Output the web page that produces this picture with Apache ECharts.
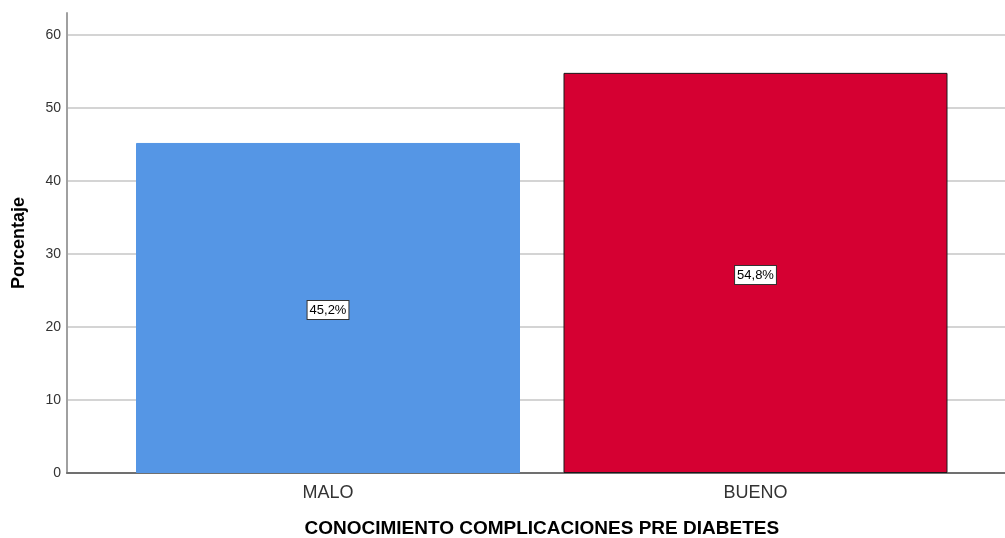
<!DOCTYPE html>
<html>
<head>
<meta charset="utf-8">
<script src="https://cdn.jsdelivr.net/npm/echarts@6/dist/echarts.min.js"></script>
<style>
  html, body { margin: 0; padding: 0; background: #fff; }
  #chart { width: 1005px; height: 538px; }
</style>
</head>
<body>
<div id="chart"></div>
<script>
const categories = ['MALO', 'BUENO'];
const percentages = [45.2, 54.8];
const barColors = ['#5596e5', '#d50032'];
const barBorders = ['#5596e5', '#1a1a1a'];

const FONT = '"Liberation Sans", Arial, sans-serif';
const Y_MAX = 63;

const chart = echarts.init(document.getElementById('chart'));

chart.setOption({
  animation: false,
  grid: [
    // frame grid: value axis, gridlines and base line
    { left: 67, right: 0, top: 13, bottom: 65, outerBoundsMode: 'none', containLabel: false },
    // bar grid: category bands
    { left: 114.25, right: 35.75, top: 13, bottom: 65, outerBoundsMode: 'none', containLabel: false }
  ],
  xAxis: [
    {
      gridIndex: 0, type: 'value', min: 0, max: 1,
      axisLine: { show: true, onZero: false, lineStyle: { color: '#707070', width: 2 } },
      axisTick: { show: false }, axisLabel: { show: false }, splitLine: { show: false }
    },
    {
      gridIndex: 1, type: 'category', data: categories,
      axisLine: { show: false }, axisTick: { show: false },
      axisLabel: { color: '#333', fontSize: 18, fontFamily: FONT, margin: 11 },
      name: 'CONOCIMIENTO COMPLICACIONES PRE DIABETES',
      nameLocation: 'middle', nameGap: 46,
      nameTextStyle: { color: '#000', fontSize: 19, fontWeight: 'bold', fontFamily: FONT }
    }
  ],
  yAxis: [
    {
      gridIndex: 0, type: 'value', min: 0, max: Y_MAX, interval: 10,
      axisLine: { show: true, lineStyle: { color: '#a0a0a0', width: 2 } },
      axisTick: { show: false },
      axisLabel: { color: '#333', fontSize: 14, fontFamily: FONT, margin: 6, showMaxLabel: false },
      splitLine: { show: true, showMaxLine: false, showMinLine: false, lineStyle: { color: '#d4d4d4', width: 2 } },
      name: 'Porcentaje', nameLocation: 'middle', nameGap: 39,
      nameTextStyle: { color: '#000', fontSize: 18, fontWeight: 'bold', fontFamily: FONT }
    },
    {
      gridIndex: 1, type: 'value', min: 0, max: Y_MAX, show: false,
      splitLine: { show: false }
    }
  ],
  series: [
    {
      type: 'bar',
      xAxisIndex: 1, yAxisIndex: 1,
      barWidth: 384,
      z: 3,
      data: percentages.map((v, i) => ({
        value: v,
        itemStyle: { color: barColors[i], borderColor: barBorders[i], borderWidth: 1 }
      })),
      label: {
        show: true, position: 'inside', offset: [0, 2],
        formatter: p => p.value.toFixed(1).replace('.', ',') + '%',
        color: '#000', fontSize: 13, fontFamily: FONT,
        backgroundColor: '#fff', borderColor: '#333', borderWidth: 1,
        padding: [3, 2, 2, 2]
      }
    }
  ]
});
</script>
</body>
</html>
